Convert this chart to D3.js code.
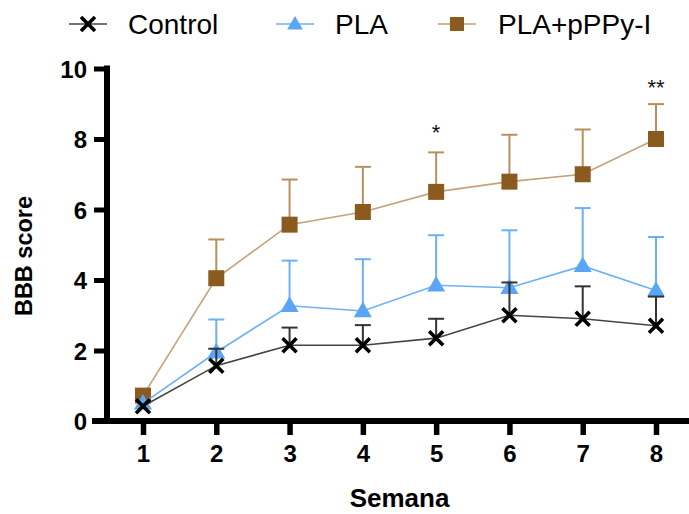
<!DOCTYPE html>
<html>
<head>
<meta charset="utf-8">
<script src="https://cdn.jsdelivr.net/npm/d3@7"></script>
<style>
  body { margin: 0; background: #fff; }
  svg { display: block; font-family: "Liberation Sans", Arial, sans-serif; }
</style>
</head>
<body>
<div id="chart"></div>
<script>
// data
var weeks = [1, 2, 3, 4, 5, 6, 7, 8];
var controlMean = [0.42, 1.57, 2.15, 2.15, 2.35, 3.0, 2.9, 2.7];
var controlTop  = [0.42, 2.05, 2.65, 2.72, 2.9, 3.93, 3.82, 3.53];
var plaMean = [0.5, 1.95, 3.27, 3.12, 3.85, 3.78, 4.4, 3.7];
var plaTop  = [0.5, 2.88, 4.55, 4.59, 5.27, 5.41, 6.04, 5.22];
var ppyMean = [0.72, 4.05, 5.57, 5.93, 6.5, 6.79, 7.0, 8.0];
var ppyTop  = [0.72, 5.15, 6.85, 7.21, 7.62, 8.12, 8.27, 8.99];
var yTicks = [0, 2, 4, 6, 8, 10];
var stars = [{week: 5, label: '*', value: 8.3}, {week: 8, label: '**', value: 9.6}];

var series = [
    {name: 'PLA+pPPy-I', mean: ppyMean, top: ppyTop, line: '#c4a27a', err: '#b98f5c', fill: '#8b5a1e', symbol: 'square'},
    {name: 'PLA', mean: plaMean, top: plaTop, line: '#6cb0f7', err: '#6cb0f7', fill: '#5aa5f5', symbol: 'triangle'},
    {name: 'Control', mean: controlMean, top: controlTop, line: '#444', err: '#333', fill: '#000', symbol: 'cross'}
];

var width = 689, height = 514;
var margin = {left: 107, right: 0, top: 68.5, bottom: 93};

var svg = d3.select('#chart').append('svg')
    .attr('width', width)
    .attr('height', height);

var x = d3.scaleLinear().domain([1, 8]).range([143, 656]);
var y = d3.scaleLinear().domain([0, 10]).range([height - margin.bottom, margin.top]);

// axes
var xAxis = svg.append('g')
    .attr('transform', `translate(0,${y(0)})`)
    .call(d3.axisBottom(x).tickValues(weeks).tickSize(14).tickPadding(10).tickFormat(d3.format('d')));
xAxis.select('.domain').attr('d', `M${margin.left - 15},0H${width}`);

var yAxis = svg.append('g')
    .attr('transform', `translate(${margin.left},0)`)
    .call(d3.axisLeft(y).tickValues(yTicks).tickSize(13).tickPadding(7));
yAxis.select('.domain').attr('d', `M0,${y(10) - 3}V${y(0) + 3}`);

svg.selectAll('.tick line').attr('stroke', '#000').attr('stroke-width', 5.5);
yAxis.selectAll('.tick line').attr('stroke-width', 5);
svg.selectAll('.domain').attr('stroke', '#000').attr('stroke-width', 6);
svg.selectAll('.tick text')
    .attr('font-size', 24)
    .attr('font-weight', 'bold')
    .attr('fill', '#000')
    .attr('font-family', '"Liberation Sans", Arial, sans-serif');
xAxis.selectAll('.tick text').attr('dy', '0.72em');
yAxis.selectAll('.tick text').attr('dy', '0.36em');

svg.append('text')
    .attr('x', x(4.5))
    .attr('y', 507)
    .attr('text-anchor', 'middle')
    .attr('font-size', 26)
    .attr('font-weight', 'bold')
    .text('Semana');

svg.append('text')
    .attr('transform', 'translate(32,256) rotate(-90)')
    .attr('text-anchor', 'middle')
    .attr('font-size', 23.5)
    .attr('font-weight', 'bold')
    .text('BBB score');

function drawSymbol(g, type, color, size) {
    if (type === 'cross') {
        var h = size / 2;
        g.append('path')
            .attr('d', `M${-h},${-h}L${h},${h}M${-h},${h}L${h},${-h}`)
            .attr('stroke', color)
            .attr('stroke-width', 3.6)
            .attr('fill', 'none');
    } else if (type === 'square') {
        g.append('rect')
            .attr('x', -size / 2).attr('y', -size / 2)
            .attr('width', size).attr('height', size)
            .attr('fill', color);
    } else {
        g.append('path')
            .attr('d', d3.symbol().type(d3.symbolTriangle).size(size * size * 0.55)())
            .attr('transform', 'translate(0,1)')
            .attr('fill', color);
    }
}

var line = d3.line().x(d => x(d.week)).y(d => y(d.value));

series.forEach(s => {
    var pts = weeks.map((w, i) => ({week: w, value: s.mean[i], top: s.top[i]}));
    var g = svg.append('g');

    // upper error bars only
    var errs = g.selectAll('g.err').data(pts.filter(d => d.top > d.value)).enter().append('g');
    errs.append('line')
        .attr('x1', d => x(d.week)).attr('x2', d => x(d.week))
        .attr('y1', d => y(d.value)).attr('y2', d => y(d.top))
        .attr('stroke', s.err).attr('stroke-width', 2);
    errs.append('line')
        .attr('x1', d => x(d.week) - 8).attr('x2', d => x(d.week) + 8)
        .attr('y1', d => y(d.top)).attr('y2', d => y(d.top))
        .attr('stroke', s.err).attr('stroke-width', 2);

    g.append('path')
        .datum(pts)
        .attr('d', line)
        .attr('fill', 'none')
        .attr('stroke', s.line)
        .attr('stroke-width', 1.6);

    pts.forEach(d => {
        var m = g.append('g').attr('transform', `translate(${x(d.week)},${y(d.value)})`);
        drawSymbol(m, s.symbol, s.fill, s.symbol === 'cross' ? 14 : 16);
    });
});

// significance marks
svg.selectAll('text.star').data(stars).enter().append('text')
    .attr('x', d => x(d.week))
    .attr('y', d => y(d.value) + 12)
    .attr('text-anchor', 'middle')
    .attr('font-size', 22)
    .attr('fill', '#111')
    .text(d => d.label);

// legend
var legendItems = [
    {s: series[2], x: 69, tx: 128},
    {s: series[1], x: 276, tx: 335},
    {s: series[0], x: 438, tx: 498}
];
legendItems.forEach(l => {
    var g = svg.append('g').attr('transform', `translate(${l.x},24)`);
    g.append('line').attr('x1', 0).attr('x2', 38).attr('stroke', l.s.line).attr('stroke-width', 1.6);
    var m = g.append('g').attr('transform', 'translate(19,0)');
    drawSymbol(m, l.s.symbol, l.s.fill, 14);
    svg.append('text')
        .attr('x', l.tx)
        .attr('y', 34)
        .attr('font-size', 28)
        .attr('fill', '#000')
        .text(l.s.name);
});
</script>
</body>
</html>
